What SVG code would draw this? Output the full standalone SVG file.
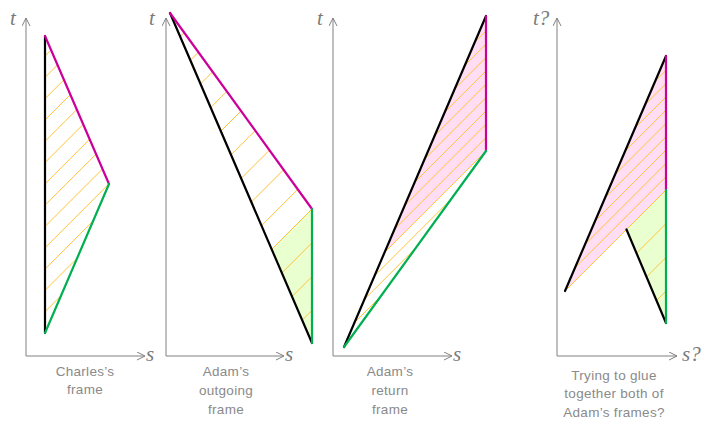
<svg xmlns="http://www.w3.org/2000/svg" width="713" height="426" viewBox="0 0 713 426">
<style>
.ax{stroke:#808080;stroke-width:1;fill:none}
.al{font-family:"Liberation Serif",serif;font-style:italic;font-size:21px;fill:#7a7a7a}
.lb{font-family:"Liberation Sans",sans-serif;font-size:13.5px;fill:#8a8a8a;text-anchor:middle;letter-spacing:0.3px}
.h{stroke:#ffc23a;stroke-width:1;fill:none}
.k{stroke:#000;stroke-width:2.2;fill:none;stroke-linecap:round}
.m{stroke:#cc0099;stroke-width:2.2;fill:none;stroke-linecap:round}
.g{stroke:#00b050;stroke-width:2.2;fill:none;stroke-linecap:round}
.pf{fill:#ffddf3}
.gf{fill:#eaffd0}
</style>
<defs>
<marker id="arr" markerWidth="10" markerHeight="10" refX="8" refY="4" orient="auto" markerUnits="userSpaceOnUse">
<path d="M0,0 L8,4 L0,8" fill="none" stroke="#808080" stroke-width="1"/>
</marker>
<clipPath id="c1"><polygon points="45,36 109,184 45,333"/></clipPath>
<clipPath id="c2"><polygon points="170,13 312,209 312,343"/></clipPath>
<clipPath id="c3"><polygon points="344,347 486,16 486,151"/></clipPath>
<clipPath id="c4"><polygon points="565,291 666,56 666,323 626.5,229.5"/></clipPath>
</defs>

<g id="panel1">
<line class="ax" x1="26" y1="356" x2="26" y2="18" marker-end="url(#arr)"/>
<line class="ax" x1="26" y1="356" x2="145" y2="356" marker-end="url(#arr)"/>
<text class="al" x="10" y="25">t</text>
<text class="al" x="146" y="361">s</text>
<path class="h" clip-path="url(#c1)" d="M40 316.7l75 -75M40 295.4l75 -75M40 274.1l75 -75M40 252.8l75 -75M40 231.5l75 -75M40 210.2l75 -75M40 188.9l75 -75M40 167.6l75 -75M40 146.3l75 -75M40 125l75 -75M40 103.7l75 -75M40 82.4l75 -75M40 61.1l75 -75"/>
<line class="k" x1="45" y1="36" x2="45" y2="333"/>
<line class="m" x1="45" y1="36" x2="109" y2="184"/>
<line class="g" x1="109" y1="184" x2="45" y2="333"/>
<text class="lb" x="85" y="376">Charles’s</text>
<text class="lb" x="85" y="394">frame</text>
</g>

<g id="panel2">
<line class="ax" x1="166" y1="356" x2="166" y2="18" marker-end="url(#arr)"/>
<line class="ax" x1="166" y1="356" x2="284" y2="356" marker-end="url(#arr)"/>
<text class="al" x="149" y="25">t</text>
<text class="al" x="285" y="361">s</text>
<polygon class="gf" points="271.7,249.3 312,209 312,343"/>
<path class="h" clip-path="url(#c2)" d="M165 457.4l150 -150M165 423.6l150 -150M165 389.8l150 -150M165 322.2l150 -150M165 288.4l150 -150M165 254.6l150 -150M165 220.8l150 -150M165 187l150 -150M165 153.2l150 -150M165 119.4l150 -150M165 85.6l150 -150M165 51.8l150 -150"/>
<line class="h" x1="271.7" y1="249.3" x2="312" y2="209"/>
<line class="k" x1="170" y1="13" x2="312" y2="343"/>
<line class="m" x1="170" y1="13" x2="312" y2="209"/>
<line class="g" x1="312" y1="209" x2="312" y2="343"/>
<text class="lb" x="226" y="376">Adam’s</text>
<text class="lb" x="226" y="395">outgoing</text>
<text class="lb" x="226" y="414">frame</text>
</g>

<g id="panel3">
<line class="ax" x1="333" y1="356" x2="333" y2="18" marker-end="url(#arr)"/>
<line class="ax" x1="333" y1="356" x2="452" y2="356" marker-end="url(#arr)"/>
<text class="al" x="317" y="25">t</text>
<text class="al" x="453" y="361">s</text>
<polygon class="pf" points="384.6,252.4 486,16 486,151"/>
<path class="h" clip-path="url(#c3)" d="M340 337.05l150 -150M340 323.7l150 -150M340 310.35l150 -150M340 283.65l150 -150M340 270.3l150 -150M340 256.95l150 -150M340 243.6l150 -150M340 230.25l150 -150M340 216.9l150 -150M340 203.55l150 -150M340 190.2l150 -150M340 176.85l150 -150"/>
<line class="h" x1="384.6" y1="252.4" x2="486" y2="151"/>
<line class="k" x1="344" y1="347" x2="486" y2="16"/>
<line class="m" x1="486" y1="16" x2="486" y2="151"/>
<line class="g" x1="486" y1="151" x2="344" y2="347"/>
<text class="lb" x="390" y="376">Adam’s</text>
<text class="lb" x="390" y="395">return</text>
<text class="lb" x="390" y="414">frame</text>
</g>

<g id="panel4">
<line class="ax" x1="557" y1="356" x2="557" y2="18" marker-end="url(#arr)"/>
<line class="ax" x1="557" y1="356" x2="677" y2="356" marker-end="url(#arr)"/>
<text class="al" x="533" y="25">t?</text>
<text class="al" x="682" y="361">s?</text>
<polygon class="pf" points="565,291 666,56 666,190"/>
<polygon class="gf" points="626.5,229.5 666,190 666,323"/>
<path class="h" clip-path="url(#c4)" d="M560 282.7l110 -110M560 269.4l110 -110M560 256.1l110 -110M560 242.8l110 -110M560 229.5l110 -110M560 216.2l110 -110M560 202.9l110 -110M560 189.6l110 -110M560 176.3l110 -110M560 329.7l110 -110M560 363.4l110 -110M560 397.1l110 -110"/>
<line class="h" x1="565" y1="291" x2="666" y2="190"/>
<line class="k" x1="565" y1="291" x2="666" y2="56"/>
<line class="k" x1="626.5" y1="229.5" x2="666" y2="323"/>
<line class="m" x1="666" y1="56" x2="666" y2="190"/>
<line class="g" x1="666" y1="190" x2="666" y2="323"/>
<text class="lb" x="614" y="380">Trying to glue</text>
<text class="lb" x="614" y="398">together both of</text>
<text class="lb" x="614" y="417">Adam’s frames?</text>
</g>
</svg>
